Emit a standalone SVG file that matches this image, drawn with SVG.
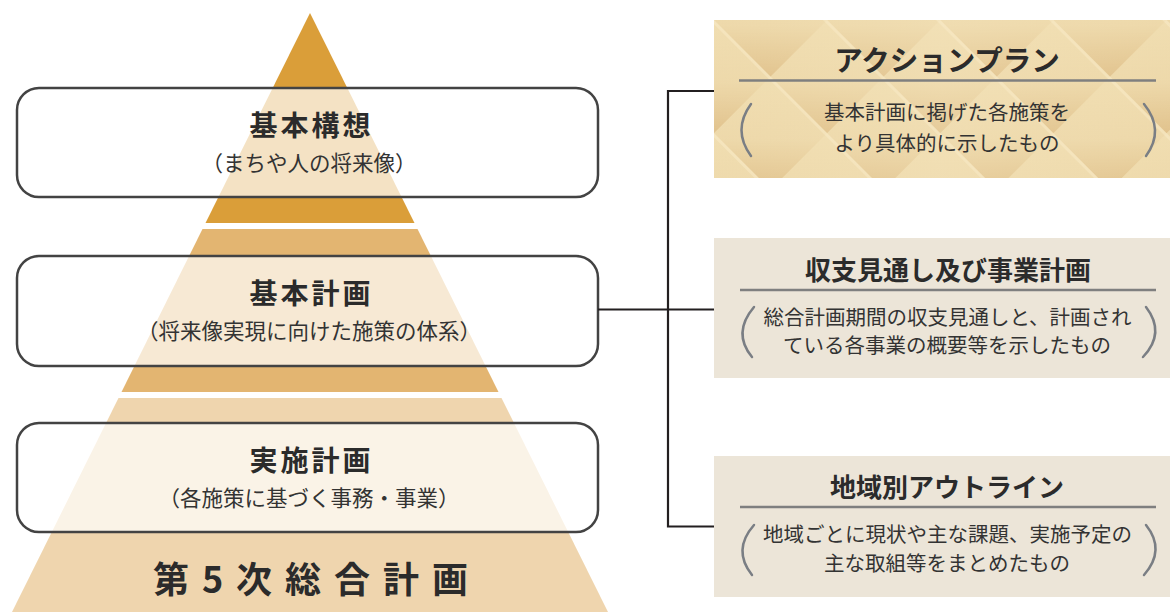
<svg xmlns="http://www.w3.org/2000/svg" width="1170" height="612" viewBox="0 0 1170 612">
<style>
.jp{font-family:"Noto Sans CJK JP","Noto Sans",sans-serif;fill:#2b2b2b;}
.ttl{font-size:28px;font-weight:700;letter-spacing:3px;text-anchor:middle;}
.sub{font-size:21.5px;text-anchor:middle;fill:#333;}
.ptl{font-size:26px;font-weight:700;text-anchor:middle;}
.pbd{font-size:20.5px;text-anchor:middle;fill:#333;}
.box{fill:#fff;fill-opacity:0.7;stroke:#434343;stroke-width:2.5;}
.rule{stroke:#7f7f7f;stroke-width:2.5;}
.brk{fill:none;stroke:#7a7e84;stroke-width:2.5;stroke-linecap:round;}
.con{fill:none;stroke:#231f20;stroke-width:2.2;}
</style>
<defs>
<linearGradient id="cellg" x1="0" y1="0" x2="1" y2="1">
<stop offset="0" stop-color="#c79550" stop-opacity="0"/>
<stop offset="0.55" stop-color="#c79550" stop-opacity="0.08"/>
<stop offset="1" stop-color="#c79550" stop-opacity="0.42"/>
</linearGradient>
<pattern id="tex" patternUnits="userSpaceOnUse" width="80" height="80" patternTransform="translate(714 20) rotate(45)">
<rect width="80" height="80" fill="#f0ddb0"/>
<rect width="80" height="80" fill="url(#cellg)"/>
<rect x="0" y="0" width="80" height="3" fill="#fff4d6" fill-opacity="0.35"/>
</pattern>
<linearGradient id="wash" x1="0" y1="0" x2="1" y2="0">
<stop offset="0" stop-color="#f4e4bb" stop-opacity="0.1"/>
<stop offset="0.5" stop-color="#f6e8c4" stop-opacity="0.3"/>
<stop offset="1" stop-color="#f4e4bb" stop-opacity="0.1"/>
</linearGradient>
</defs>

<g id="pyramid">
<polygon points="310,13 414.5,223 205.5,223" fill="#da9e39"/>
<polygon points="202.5,229 417.5,229 498.5,392 121.5,392" fill="#e3b571"/>
<polygon points="118.5,398 501.5,398 608,612 12,612" fill="#efd5ae"/>
<text class="jp" x="317" y="593" font-size="36" font-weight="700" letter-spacing="13" text-anchor="middle">第5次総合計画</text>
</g>

<g id="kihon-koso">
<rect class="box" x="17" y="88" width="581" height="109" rx="22"/>
<text class="jp ttl" x="311.5" y="136">基本構想</text>
<text class="jp sub" x="309" y="171">（まちや人の将来像）</text>
</g>

<g id="kihon-keikaku">
<rect class="box" x="17" y="256" width="581" height="110" rx="22"/>
<text class="jp ttl" x="311.5" y="304">基本計画</text>
<text class="jp sub" x="309" y="339">（将来像実現に向けた施策の体系）</text>
</g>

<g id="jisshi-keikaku">
<rect class="box" x="17" y="423" width="581" height="109" rx="22"/>
<text class="jp ttl" x="311.5" y="471">実施計画</text>
<text class="jp sub" x="309" y="506">（各施策に基づく事務・事業）</text>
</g>

<g id="connectors">
<path class="con" d="M598 309.5 H714"/>
<path class="con" d="M714 91 H668 V526.5 H714"/>
</g>

<g id="action-plan">
<rect x="714" y="20" width="456" height="158" fill="url(#tex)"/>
<rect x="714" y="20" width="456" height="158" fill="url(#wash)"/>
<text class="jp ptl" x="947" y="71" style="font-size:28.5px">アクションプラン</text>
<line class="rule" x1="739" y1="80.5" x2="1156" y2="80.5"/>
<path class="brk" d="M751 104 Q732 130 751 156"/>
<path class="brk" d="M1144 104 Q1165 130 1146 156"/>
<text class="jp pbd" x="947" y="120">基本計画に掲げた各施策を</text>
<text class="jp pbd" x="947" y="151">より具体的に示したもの</text>
</g>

<g id="shushi">
<rect x="714" y="238" width="456" height="140" fill="#ece5d8"/>
<text class="jp ptl" x="948" y="280">収支見通し及び事業計画</text>
<line class="rule" x1="740" y1="290" x2="1156" y2="290"/>
<path class="brk" d="M754 307 Q732 333 752 357"/>
<path class="brk" d="M1146 307 Q1166 333 1143 357"/>
<text class="jp pbd" x="947.5" y="325">総合計画期間の収支見通しと、計画され</text>
<text class="jp pbd" x="947" y="353">ている各事業の概要等を示したもの</text>
</g>

<g id="chiiki">
<rect x="714" y="456" width="456" height="141" fill="#ece5d8"/>
<text class="jp ptl" x="947" y="497">地域別アウトライン</text>
<line class="rule" x1="740" y1="507" x2="1156" y2="507"/>
<path class="brk" d="M754 525 Q732 550 752 575"/>
<path class="brk" d="M1146 525 Q1166 550 1144 575"/>
<text class="jp pbd" x="947.5" y="542">地域ごとに現状や主な課題、実施予定の</text>
<text class="jp pbd" x="947" y="571">主な取組等をまとめたもの</text>
</g>
</svg>
